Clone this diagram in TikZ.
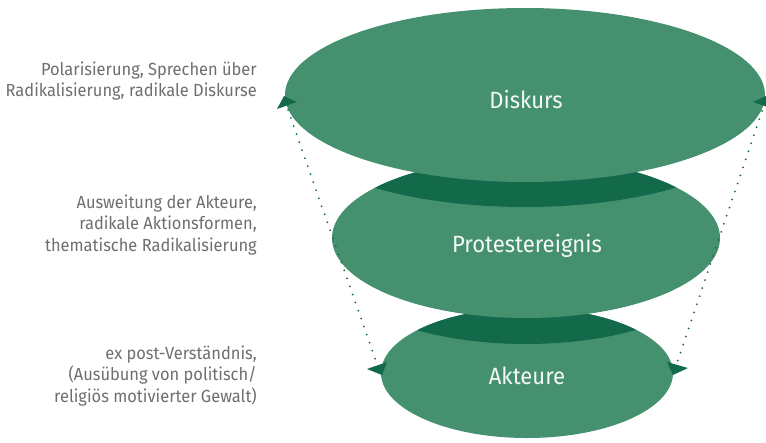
\documentclass[tikz,border=0pt]{standalone}
\usepackage{fontspec}
\setmainfont{Fira Sans}[FakeStretch=0.94]
\definecolor{lightg}{HTML}{45916F}
\definecolor{darkg}{HTML}{136A4A}
\definecolor{txtgray}{HTML}{6E6E6E}
\begin{document}
\begin{tikzpicture}[x=1pt,y=-1pt,
  lighte/.style={fill=lightg},
  shade/.style={fill=darkg},
  tri/.style={fill=darkg},
  dotline/.style={draw=darkg,line width=2pt,line cap=round,dash pattern=on 0pt off 8.5pt},
  eltext/.style={text=white!94!lightg,font=\fontsize{23.5}{26}\selectfont,anchor=base,inner sep=0pt},
  sidetext/.style={text=txtgray,font=\fontsize{17.5}{21.5}\selectfont,align=right,anchor=east,inner sep=0pt}]
\useasboundingbox (0,0) rectangle (766,442);
% bottom ellipse with shadow of the middle one
\path[lighte] (527,373) ellipse (146 and 65);
\begin{scope}
  \clip (527,373) ellipse (146 and 65);
  \path[shade] (526,264) ellipse (194 and 80);
\end{scope}
% middle ellipse with shadow of the top one
\path[lighte] (526,238) ellipse (194 and 80);
\begin{scope}
  \clip (526,238) ellipse (194 and 80);
  \path[shade] (525,120) ellipse (240 and 87);
\end{scope}
% top ellipse
\path[lighte] (525,95) ellipse (240 and 87);
% labels in ellipses
\node[eltext] (diskurs) at (526,108) {Diskurs};
\node[eltext] (protest) at (527,252) {Protestereignis};
\node[eltext] (akteure) at (527,384) {Akteure};
% triangles
\path[tri] (277,109) -- (284,96) -- (297,102) -- cycle;
\path[tri] (773,109) -- (766,96) -- (753,102) -- cycle;
\path[tri] (367,369) -- (387,362) -- (382,375) -- cycle;
\path[tri] (688,368) -- (667,362) -- (673,375) -- cycle;
\coordinate (tl) at (288,110);
\coordinate (bl) at (377,364);
\coordinate (tr) at (762,111);
\coordinate (br) at (677,363);
\draw[dotline] (tl) -- (bl);
\draw[dotline] (tr) -- (br);
% side texts
\node[sidetext] (t1) at (257,81) {Polarisierung, Sprechen über\\Radikalisierung, radikale Diskurse};
\node[sidetext] (t2) at (257,225) {Ausweitung der Akteure,\\radikale Aktionsformen,\\thematische Radikalisierung};
\node[sidetext] (t3) at (257,376) {ex post-Verständnis,\\(Ausübung von politisch/\\religiös motivierter Gewalt)};
\end{tikzpicture}
\end{document}
